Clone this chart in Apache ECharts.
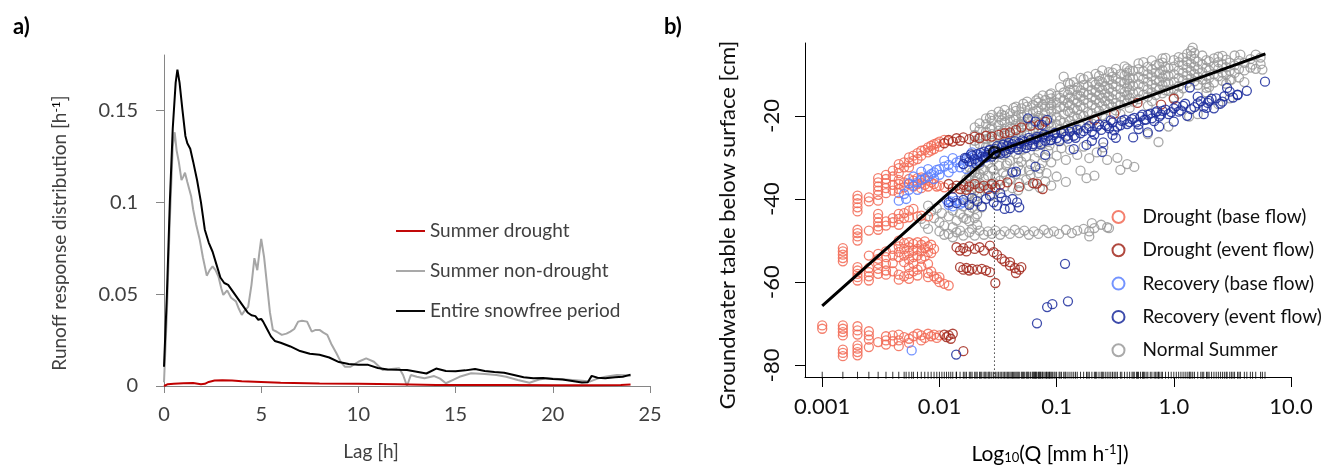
<!DOCTYPE html>
<html><head><meta charset="utf-8">
<script src="https://cdn.jsdelivr.net/npm/echarts@6/dist/echarts.min.js"></script>
<style>html,body{margin:0;padding:0;background:#fff}#c{width:1333px;height:466px}</style>
</head><body><div id="c"></div>
<script>
// ---------- Panel a data: [lag h, runoff response h^-1] ----------
const LAG_ENTIRE = [[0,0.0105],[0.15,0.05],[0.3,0.1],[0.45,0.14],[0.6,0.165],[0.69,0.172],[0.8,0.165],[0.95,0.15],[1.1,0.136],[1.2,0.132],[1.35,0.129],[1.5,0.122],[1.7,0.112],[1.9,0.1],[2.1,0.085],[2.3,0.078],[2.5,0.073],[2.7,0.066],[2.9,0.059],[3.1,0.056],[3.3,0.055],[3.5,0.052],[3.7,0.049],[3.9,0.046],[4.1,0.043],[4.3,0.040],[4.5,0.0385],[4.7,0.038],[4.85,0.036],[5.0,0.0365],[5.1,0.035],[5.3,0.031],[5.5,0.027],[5.7,0.0245],[6.0,0.0235],[6.5,0.0215],[7.0,0.019],[7.5,0.0175],[8.0,0.017],[8.5,0.0155],[9.0,0.013],[9.5,0.012],[10,0.0115],[10.5,0.0115],[11,0.0098],[11.5,0.009],[12,0.0088],[12.5,0.0087],[13,0.0078],[13.5,0.0068],[14,0.0095],[14.5,0.0082],[15,0.008],[15.5,0.0085],[16,0.0092],[16.5,0.0082],[17,0.0076],[17.5,0.0072],[18,0.006],[18.5,0.0048],[19,0.0042],[19.5,0.0044],[20,0.0038],[20.5,0.0035],[21,0.0027],[21.5,0.0019],[21.8,0.002],[22,0.0055],[22.3,0.0045],[22.7,0.0042],[23.2,0.0047],[23.6,0.005],[24,0.0062]];
const LAG_NON_DROUGHT = [[0,0.002],[0.15,0.04],[0.3,0.09],[0.45,0.13],[0.55,0.138],[0.65,0.128],[0.76,0.122],[0.9,0.112],[1.0,0.114],[1.08,0.116],[1.2,0.111],[1.3,0.107],[1.4,0.103],[1.5,0.096],[1.65,0.088],[1.84,0.0795],[2.0,0.07],[2.2,0.060],[2.35,0.063],[2.5,0.065],[2.65,0.063],[2.8,0.0595],[2.95,0.053],[3.05,0.0495],[3.25,0.052],[3.45,0.048],[3.7,0.046],[3.85,0.042],[4.0,0.0387],[4.15,0.041],[4.33,0.043],[4.5,0.055],[4.65,0.0695],[4.8,0.063],[4.9,0.072],[5.0,0.080],[5.15,0.07],[5.3,0.055],[5.45,0.04],[5.6,0.0305],[5.8,0.0295],[6.06,0.0278],[6.3,0.0285],[6.5,0.0296],[6.7,0.031],[6.9,0.035],[7.1,0.0355],[7.36,0.035],[7.6,0.0296],[7.8,0.0305],[8.0,0.0305],[8.2,0.029],[8.4,0.0278],[8.6,0.023],[8.87,0.0178],[9.1,0.013],[9.3,0.0105],[9.6,0.0105],[10,0.0132],[10.4,0.015],[10.8,0.0132],[11.25,0.0087],[11.7,0.0092],[12.1,0.0096],[12.3,0.006],[12.5,0.0],[12.7,0.006],[13.0,0.005],[13.4,0.0042],[13.9,0.0054],[14.2,0.004],[14.5,0.0015],[14.9,0.0035],[15.2,0.005],[15.8,0.0069],[16.5,0.0065],[17.1,0.006],[17.6,0.005],[18.2,0.0033],[18.8,0.0018],[19.3,0.0035],[19.7,0.0042],[20.3,0.0038],[21,0.0033],[21.5,0.0028],[21.9,0.0024],[22.3,0.004],[22.7,0.005],[23.3,0.006],[23.7,0.0058],[24,0.0054]];
const LAG_DROUGHT = [[0,0],[0.2,0.001],[0.5,0.0012],[1.0,0.0015],[1.5,0.0016],[1.9,0.001],[2.1,0.0012],[2.3,0.0022],[2.6,0.003],[3.0,0.0031],[3.5,0.003],[4.0,0.0026],[5,0.0022],[6,0.0018],[8,0.0014],[10,0.0012],[12,0.0009],[14,0.0006],[16,0.0006],[18,0.0005],[20,0.0004],[22,0.0004],[23.5,0.0005],[24,0.0008]];
const A_X_MIN = 0, A_X_MAX = 25, A_X_STEP = 5;
const A_Y_MAX = 0.18;
const A_Y_TICKS = [0, 0.05, 0.1, 0.15];

// ---------- Panel b data: [Q mm h^-1, groundwater table cm] ----------
// grouped by discharge value: [Q, [depths...]]
const DROUGHT_BASE = [
[0.001,[-70.4,-71.2]],
[0.0015,[-51.8,-52.6,-53.4,-54.2,-55.0,-70.4,-71.2,-72.0,-72.8,-76.2,-77.0,-77.8]],
[0.002,[-39.2,-40.0,-41.0,-42.0,-43.0,-47.4,-48.2,-49.0,-50.0,-56.4,-57.2,-58.0,-58.8,-59.6,-70.6,-71.6,-72.6,-75.2,-76.0,-76.8,-77.6]],
[0.0025,[-39.6,-40.6,-47.6,-53.6,-56.6,-57.6,-58.6,-59.6,-71.8,-72.8,-73.8,-75.6]],
[0.003,[-35.0,-36.0,-37.0,-38.0,-39.0,-40.4,-43.6,-44.6,-45.6,-46.6,-47.4,-53.2,-54.4,-55.6,-56.8,-58.0,-74.4]],
[0.0035,[-34.2,-35.2,-36.2,-37.4,-38.6,-45.4,-46.4,-52.6,-54.0,-55.6,-57.2,-58.2,-73.0,-74.0,-75.0]],
[0.004,[-33.2,-34.6,-36.6,-38.0,-44.6,-45.6,-52.0,-53.6,-55.4,-57.4,-72.8,-74.2]],
[0.0045,[-31.6,-32.6,-33.8,-35.4,-36.4,-37.6,-38.6,-43.6,-44.8,-46.2,-50.0,-51.4,-52.8,-54.0,-58.2,-59.4,-72.6,-74.0,-75.4]],
[0.005,[-31.2,-32.4,-36.0,-37.2,-43.4,-44.6,-50.6,-52.0,-53.6,-55.2,-58.6,-73.2]],
[0.0055,[-30.0,-31.2,-32.4,-35.2,-36.4,-42.8,-44.4,-50.4,-51.6,-53.0,-54.6,-56.4,-58.0,-59.2,-73.6,-74.6]],
[0.006,[-29.6,-30.8,-35.6,-37.0,-42.4,-50.8,-52.4,-54.0,-55.6,-57.4,-73.0]],
[0.0065,[-29.0,-30.4,-35.0,-36.4,-44.2,-50.4,-52.0,-53.6,-57.0,-58.4,-72.4]],
[0.007,[-28.4,-29.6,-34.8,-36.2,-37.4,-44.0,-51.0,-52.6,-54.4,-56.2,-72.8,-74.0]],
[0.0075,[-28.2,-35.2,-36.6,-50.2,-51.8,-53.8,-73.4]],
[0.008,[-27.6,-28.8,-35.6,-37.0,-44.2,-51.4,-52.8,-55.6,-57.8,-58.8,-72.4]],
[0.0085,[-27.2,-28.4,-36.0,-51.0,-53.0,-57.4,-73.0]],
[0.009,[-26.8,-28.0,-36.4,-52.0,-58.6,-72.6]],
[0.0095,[-26.6,-37.0,-59.2,-73.4]],
[0.01,[-26.2,-27.4,-36.8,-58.8,-60.0,-72.8]],
[0.011,[-25.8,-37.2,-60.4]],
[0.012,[-26.0,-60.8]]
];
const DROUGHT_EVENT = [
[0.011,[-26.6,-72.6]],[0.0115,[-73.2]],[0.012,[-25.8,-36.4,-72.8]],[0.0125,[-73.6]],[0.013,[-26.2,-37.4,-72.4]],
[0.014,[-25.4,-36.8,-51.6]],[0.015,[-26.0,-37.6,-52.4,-56.4]],[0.016,[-25.2,-36.6,-51.8,-57.0,-76.6]],
[0.017,[-37.8,-52.6,-56.6]],[0.018,[-25.6,-37.0,-51.4,-57.2]],[0.019,[-56.8]],[0.02,[-25.0,-36.4,-52.0]],
[0.021,[-57.0]],[0.022,[-25.4,-37.4,-51.6]],[0.023,[-56.8]],[0.024,[-36.8,-52.4]],[0.025,[-24.8,-57.2]],
[0.026,[-37.6]],[0.027,[-51.2,-57.6]],[0.028,[-25.0,-36.4]],[0.029,[-52.8]],[0.03,[-37.2,-60.2]],
[0.031,[-53.4]],[0.032,[-24.6]],[0.033,[-36.6]],[0.034,[-54.4]],[0.036,[-24.2,-55.0]],[0.038,[-36.0]],
[0.04,[-24.0,-55.2,-56.0]],[0.044,[-56.6]],[0.045,[-23.4,-57.8]],[0.048,[-37.1,-57.0]],[0.05,[-22.8,-56.4]],
[0.06,[-22.4]],[0.063,[-36.2]],[0.068,[-36.3]],[0.071,[-22.2]],[0.076,[-37.6]],[0.08,[-21.4]],
[0.21,[-21.0]],[0.31,[-19.5]],[0.49,[-16.9]],[0.78,[-17.3]],[1.0,[-15.9]]
];
const RECOVERY_BASE = [
[0.0045,[-40.4]],[0.005,[-38.8]],[0.0052,[-40.0]],[0.0055,[-37.8,-36.2]],[0.0058,[-76.4]],[0.006,[-36.8,-34.6]],
[0.0065,[-36.0,-37.8]],[0.007,[-35.4,-33.4]],[0.0075,[-35.0]],[0.008,[-34.6,-32.8]],[0.0085,[-34.0]],
[0.009,[-33.6,-35.2]],[0.0095,[-33.0]],[0.01,[-32.8,-34.2]],[0.011,[-32.2,-30.8]],[0.0115,[-40.2]],
[0.012,[-31.8,-33.6,-41.4]],[0.0125,[-40.6]],[0.013,[-32.6,-30.2,-41.8]],[0.014,[-31.2,-40.4]],
[0.015,[-30.8,-32.4,-41.2]],[0.016,[-31.6,-40.8]],[0.017,[-30.4,-32.8]],[0.018,[-30.0]],[0.019,[-31.0,-28.8]],
[0.02,[-29.6]],[0.021,[-30.6]],[0.022,[-29.4]],[0.024,[-30.2]],[0.026,[-29.0]]
];
const RECOVERY_EVENT = [
[0.012,[-40.8]],[0.013,[-39.6]],[0.0139,[-77.4]],[0.014,[-41.0]],[0.016,[-31.6,-40.2]],[0.0165,[-30.1]],[0.017,[-30.2]],
[0.018,[-31.0,-41.4]],[0.0185,[-29.3]],[0.019,[-29.6,-39.8]],[0.02,[-30.4]],[0.0205,[-31.5]],[0.021,[-29.2,-40.6]],[0.022,[-31.2]],
[0.0225,[-28.9]],[0.023,[-29.8,-41.8]],[0.024,[-28.6]],[0.0245,[-29.9]],[0.025,[-30.0,-40.0]],[0.026,[-29.4]],[0.0265,[-28.3]],[0.027,[-28.2,-39.2]],
[0.028,[-29.8]],[0.029,[-40.8,-29.3]],[0.03,[-28.0]],[0.031,[-41.6,-27.3]],[0.032,[-28.8]],[0.033,[-38.6,-29.1]],
[0.034,[-27.6,-39.6]],[0.035,[-26.9]],[0.036,[-28.4,-42.4]],[0.037,[-40.4,-28.9]],[0.038,[-27.2]],[0.039,[-26.5]],[0.04,[-28.0,-42.2]],[0.041,[-27.5]],
[0.042,[-26.8,-33.6,-40.0]],[0.044,[-26.1]],[0.045,[-27.6,-33.4]],[0.046,[-40.8]],[0.047,[-28.1]],[0.048,[-26.6,-42.0]],[0.05,[-27.4]],[0.051,[-25.9]],
[0.053,[-26.2]],[0.055,[-27.7]],[0.056,[-27.0]],[0.057,[-20.6]],[0.058,[-25.3]],[0.06,[-25.8]],[0.062,[-27.3]],[0.063,[-26.8]],[0.066,[-25.6,-32.2,-21.4]],
[0.068,[-69.9,-25.1]],[0.07,[-26.4]],[0.073,[-26.9]],[0.075,[-25.2,-22.2]],[0.078,[-24.5]],[0.08,[-26.0,-29.4]],[0.083,[-66.0,-21.0]],
[0.085,[-24.8]],[0.088,[-25.9]],[0.09,[-25.8]],[0.092,[-65.3]],[0.095,[-24.6]],[0.097,[-24.1]],[0.1,[-25.4]],[0.105,[-26.1]],[0.11,[-24.2]],[0.115,[-23.7]],
[0.118,[-55.6]],[0.12,[-25.0]],[0.125,[-64.6,-25.5]],[0.13,[-23.8]],[0.135,[-23.1]],[0.14,[-24.8,-28.0]],[0.145,[-25.3]],[0.15,[-23.4]],
[0.16,[-24.2]],[0.17,[-23.7]],[0.18,[-23.0,-27.0]],[0.19,[-22.5]],[0.2,[-23.8,-26.0]],[0.21,[-24.5]],[0.22,[-22.6]],[0.23,[-22.1]],[0.24,[-23.4]],[0.245,[-28.7]],
[0.25,[-26.4]],[0.26,[-22.2]],[0.27,[-22.5]],[0.28,[-23.0]],[0.29,[-21.1]],[0.3,[-21.6,-24.6]],[0.31,[-23.5]],[0.32,[-25.3]],[0.33,[-22.6]],[0.35,[-22.3]],
[0.36,[-21.2]],[0.38,[-20.9]],[0.4,[-22.0]],[0.42,[-21.5]],[0.44,[-20.8]],[0.45,[-25.2]],[0.46,[-20.5]],[0.48,[-21.6]],[0.5,[-23.2,-22.1]],[0.52,[-20.2]],
[0.54,[-19.7]],[0.56,[-21.0]],[0.58,[-20.9]],[0.6,[-19.8,-24.0]],[0.63,[-19.5]],[0.65,[-20.6]],[0.68,[-21.3]],[0.7,[-19.2]],[0.72,[-18.9]],[0.75,[-20.2,-22.6]],
[0.78,[-19.7]],[0.8,[-18.8]],[0.85,[-18.5]],[0.9,[-19.6]],[0.95,[-19.1]],[1.0,[-18.2,-21.4]],[1.05,[-17.7]],[1.1,[-19.0]],[1.15,[-18.7]],[1.2,[-17.6]],
[1.25,[-17.1]],[1.3,[-20.0]],[1.37,[-13.2]],[1.4,[-18.4]],[1.5,[-17.9]],[1.6,[-17.0,-15.4]],[1.7,[-16.5]],[1.8,[-17.8,-19.6]],[1.9,[-18.1]],[1.95,[-16.9]],
[2.0,[-16.4]],[2.1,[-15.9]],[2.2,[-18.2]],[2.3,[-15.8]],[2.5,[-17.1]],[2.6,[-16.6]],[2.7,[-15.3]],[2.85,[-13.3]],[3.0,[-14.2]],[3.2,[-15.6]],
[3.5,[-15.0,-14.9]],[4.2,[-14.0]],[6.0,[-11.8]]
];
const NORMAL_SUMMER = [
[0.007,[-44.8]],[0.0075,[-46.0]],[0.008,[-41.6,-47.2]],[0.0085,[-43.0]],[0.009,[-44.6]],[0.0095,[-42.2]],
[0.01,[-45.6,-47.8]],[0.0105,[-43.4]],[0.011,[-46.4,-48.6]],[0.012,[-44.2,-48.4]],[0.013,[-42.8,-46.8,-49.2]],
[0.014,[-45.2,-48.0]],[0.015,[-43.6,-47.6]],[0.016,[-41.8,-48.8,-37.1,-44.5]],[0.017,[-44.8,-35.3,-39.1]],
[0.018,[-32.4,-34.4,-36.6,-38.8,-41.0,-43.2,-45.4,-48.0]],[0.019,[-47.2,-33.5,-37.7,-42.1]],
[0.02,[-22.8,-24.6,-26.0,-27.2,-33.6,-35.8,-38.0,-40.2,-42.4,-44.6,-48.8]],[0.021,[-46.2,-34.9,-39.3,-43.7]],
[0.022,[-21.8,-23.4,-25.2,-26.8,-31.8,-34.0,-36.2,-38.4,-47.6]],[0.023,[-42.0,-32.7,-36.9]],
[0.024,[-33.0,-35.2,-48.6]],[0.025,[-20.6,-22.0,-23.8,-25.6,-27.4,-37.6]],[0.026,[-31.4,-34.4,-47.8]],
[0.027,[-36.8,-20.5,-23.1,-25.3,-27.9]],[0.028,[-19.8,-21.2,-22.8,-24.4,-26.0,-32.6,-39.2,-48.4]],[0.029,[-30.5,-33.1,-36.1]],
[0.03,[-34.8,-37.6,-47.6]],
[0.032,[-19.0,-20.4,-22.2,-23.6,-25.2,-27.0,-32.0]],[0.033,[-35.6,-48.6]],[0.034,[-19.7,-21.1,-24.1,-26.9,-29.0]],[0.035,[-29.4,-33.6]],
[0.036,[-18.6,-20.0,-21.6,-23.2,-24.8,-26.4,-37.0,-47.8]],[0.037,[-31.9,-34.3]],[0.038,[-31.4]],
[0.04,[-19.4,-21.0,-22.6,-24.2,-25.6,-27.8,-30.8,-35.2,-48.4]],[0.042,[-37.4]],[0.043,[-18.1,-20.9,-23.1,-26.3]],[0.044,[-47.4]],
[0.045,[-17.8,-18.8,-20.4,-22.0,-23.6,-25.2,-29.2,-34.0]],[0.047,[-30.3,-32.1,-37.9]],[0.048,[-36.2,-48.2]],
[0.05,[-18.2,-19.8,-21.4,-23.0,-24.6,-26.8,-31.0,-33.2]],[0.052,[-17.1,-20.3,-22.1,-25.5,-28.1]],[0.053,[-47.6]],[0.055,[-29.8,-35.4]],
[0.056,[-16.6,-17.8,-19.4,-21.0,-22.6,-24.2]],[0.058,[-48.6,-33.1,-36.9]],[0.06,[-31.6,-34.2]],
[0.063,[-17.4,-19.0,-20.6,-22.2,-23.8,-25.6]],[0.064,[-47.8]],[0.065,[-30.2,-36.4]],[0.067,[-16.3,-18.9,-21.1,-24.9,-27.3]],
[0.07,[-15.8,-16.8,-18.4,-20.0,-21.6,-23.4,-28.8,-33.8,-48.4]],[0.072,[-32.7,-37.3]],[0.075,[-31.4]],[0.076,[-15.1,-17.3,-20.7,-23.1,-26.5]],[0.078,[-47.4]],
[0.08,[-16.2,-17.8,-19.4,-21.0,-22.8,-24.6,-30.0,-35.8]],[0.082,[-33.8]],[0.085,[-28.4,-48.2]],[0.087,[-14.9,-16.9,-18.3,-21.7,-23.9,-27.1]],
[0.09,[-14.6,-15.8,-17.4,-19.0,-20.6,-22.4,-31.2,-36.8]],[0.095,[-47.8]],
[0.1,[-15.2,-16.8,-18.4,-20.2,-22.0,-24.0,-29.6,-34.6]],[0.105,[-48.4]],[0.107,[-13.1,-15.7,-17.9,-21.1,-23.3,-26.1]],[0.11,[-27.8]],
[0.115,[-10.6,-14.4,-16.2,-17.8,-19.6,-21.6]],[0.12,[-30.6,-35.9,-47.4]],[0.125,[-12.1,-14.9,-16.9,-18.9,-22.3,-24.7]],
[0.13,[-12.4,-13.8,-15.6,-17.4,-19.2,-21.2,-28.2]],[0.135,[-48.2]],[0.14,[-11.9,-13.7,-16.1,-18.3,-20.1,-22.1]],
[0.15,[-13.2,-15.0,-16.8,-18.6,-20.6,-23.0,-29.4,-47.6]],[0.16,[-33.2,-10.9,-13.9,-15.3,-17.7,-19.7,-22.5]],
[0.17,[-11.2,-12.6,-14.4,-16.2,-18.0,-20.0,-27.4,-47.2]],[0.18,[-35.0]],[0.185,[-10.5,-12.9,-14.9,-16.9,-19.1,-21.1]],[0.19,[-30.2,-47.8,-49.0]],
[0.2,[-12.0,-13.8,-15.6,-17.4,-19.4,-21.8,-45.8]],[0.21,[-34.4,-47.0]],[0.215,[-9.9,-12.5,-14.3,-16.1,-18.1,-20.7]],[0.22,[-28.8]],
[0.23,[-10.4,-11.6,-13.2,-15.0,-16.8,-18.8]],[0.24,[-46.2]],[0.245,[-9.1,-11.9,-13.7,-15.7,-17.5,-19.9]],[0.25,[-27.6]],
[0.26,[-11.0,-12.8,-14.6,-16.4,-18.4,-20.6]],[0.27,[-30.6,-46.8]],[0.28,[-47.0,-9.5,-11.3,-13.5,-15.3,-17.1]],
[0.3,[-9.6,-10.6,-12.4,-14.2,-16.0,-17.8]],[0.32,[-8.7,-11.1,-12.9,-14.9,-16.9,-18.7]],[0.33,[-30.1]],[0.35,[-10.0,-11.8,-13.6,-15.4,-17.4,-19.6,-33.0]],
[0.38,[-8.1,-10.3,-12.1,-14.3,-16.1]],
[0.4,[-8.6,-9.6,-11.4,-13.2,-15.0,-16.8,-31.6]],[0.42,[-9.1,-10.9,-12.3,-13.9,-15.7,-18.1]],[0.45,[-9.2,-11.0,-12.8,-14.6,-16.6]],[0.46,[-32.3]],
[0.5,[-7.4,-8.8,-10.6,-12.4,-14.2,-16.0]],[0.55,[-7.1,-9.3,-11.1,-12.9,-14.9]],[0.6,[-8.2,-10.0,-11.8,-13.6,-15.4,-17.6,-24.4]],
[0.65,[-6.7,-8.9,-10.5,-12.5,-14.3,-16.5]],
[0.7,[-7.8,-9.6,-11.4,-13.2,-15.0]],[0.74,[-26.3]],[0.75,[-7.5,-9.9,-11.7,-13.7]],[0.8,[-6.2,-7.2,-9.0,-10.8,-12.6,-14.6]],
[0.85,[-6.1,-8.3,-10.1,-11.9,-13.9]],
[0.9,[-8.6,-10.4,-12.2,-14.0,-22.6]],[1.0,[-6.6,-8.2,-10.0,-11.8,-13.6,-15.6]],[1.1,[-5.9,-7.1,-9.1,-10.9,-12.9,-14.7]],
[1.2,[-6.0,-7.8,-9.6,-11.4,-13.4]],[1.3,[-5.1,-6.9,-8.5,-10.3,-12.1]],[1.35,[-20.2]],[1.4,[-4.4,-5.6,-7.4,-9.2,-11.0]],[1.45,[-3.6]],
[1.5,[-4.9,-6.3,-8.1,-9.9,-11.7]],
[1.6,[-7.0,-8.8,-10.6,-12.6,-19.6]],[1.75,[-5.5,-7.7,-9.5,-11.3]],[1.9,[-6.6,-8.4,-10.4,-12.2,-13.3,-14.4]],[2.0,[-6.9,-9.1,-10.9,-13.1]],
[2.2,[-6.2,-8.0,-10.0,-12.0]],
[2.4,[-5.8,-17.2,-7.1,-8.7,-10.5]],[2.6,[-5.6,-7.6,-9.6,-11.6]],[2.8,[-6.5,-8.3,-10.1,-12.3]],[3.0,[-7.2,-9.2,-11.4,-15.8]],[3.1,[-11.3]],
[3.3,[-5.5,-7.9,-9.7]],
[3.6,[-6.8,-8.8,-10.8]],[3.7,[-5.3]],[4.0,[-7.3,-9.1,-11.9]],[4.5,[-6.4,-8.4]],[4.7,[-7.7]],[5.0,[-5.3,-8.7]],[5.5,[-6.0,-7.6]],[5.7,[-8.9]]
];
// segmented regression (piecewise linear fit) and its breakpoint
const FIT_LINE = [[0.001,-65.7],[0.0295,-28.8],[6.05,-5.1]];
const BREAKPOINT = [0.0295,-28.8];
const B_X_MIN = 0.000713, B_X_MAX = 10;
const B_Y_MIN = -82.8, B_Y_MAX = -2.5;
const B_X_TICKS = [0.001, 0.01, 0.1, 1, 10];
const B_Y_TICKS = [-80, -60, -40, -20];

// ---------- build ----------
function flat(groups){ const out=[]; groups.forEach(g=>g[1].forEach(d=>out.push([g[0],d]))); return out; }
const sets = [
  {name:'Normal Summer', data:flat(NORMAL_SUMMER), color:'#9a9a9a'},
  {name:'Drought (base flow)', data:flat(DROUGHT_BASE), color:'#f26a55'},
  {name:'Drought (event flow)', data:flat(DROUGHT_EVENT), color:'#a2281c'},
  {name:'Recovery (base flow)', data:flat(RECOVERY_BASE), color:'#5a80ff'},
  {name:'Recovery (event flow)', data:flat(RECOVERY_EVENT), color:'#1b2c9c'}
];
const rugQ = [];
sets.forEach(s=>s.data.forEach(p=>{ if(rugQ.indexOf(p[0])<0) rugQ.push(p[0]); }));
const RUG_Y = B_Y_MIN + 0.45;

const FONT = 'Lato, "Noto Sans", sans-serif';
const A_COL = '#404040', A_AXIS = '#868686';

const chart = echarts.init(document.getElementById('c'), null, {renderer:'canvas'});
const series = [
  {type:'line', name:'Summer drought', xAxisIndex:0, yAxisIndex:0, data:LAG_DROUGHT, symbol:'none', lineStyle:{color:'#c00000', width:2}, itemStyle:{color:'#c00000'}, z:4},
  {type:'line', name:'Summer non-drought', xAxisIndex:0, yAxisIndex:0, data:LAG_NON_DROUGHT, symbol:'none', lineStyle:{color:'#a6a6a6', width:2}, itemStyle:{color:'#a6a6a6'}, z:3},
  {type:'line', name:'Entire snowfree period', xAxisIndex:0, yAxisIndex:0, data:LAG_ENTIRE, symbol:'none', lineStyle:{color:'#000000', width:2}, itemStyle:{color:'#000000'}, z:5}
];
sets.forEach((s,i)=>series.push({
  type:'scatter', name:s.name, xAxisIndex:1, yAxisIndex:1, data:s.data,
  symbol:'circle', symbolSize:9, z:2+i*0.01,
  itemStyle:{color:'rgba(0,0,0,0)', borderColor:s.color, borderWidth:1.3, opacity:0.85},
  emphasis:{disabled:true}, silent:true
}));
series.push({type:'scatter', name:'rug', xAxisIndex:1, yAxisIndex:1, data:rugQ.map(q=>[q,RUG_Y]), symbol:'rect', symbolSize:[1,7], itemStyle:{color:'#000'}, silent:true, z:6});
series.push({type:'line', name:'bpline', xAxisIndex:1, yAxisIndex:1, data:[BREAKPOINT,[BREAKPOINT[0],B_Y_MIN]], symbol:'none', lineStyle:{color:'#444', width:1, type:[1.5,2.5]}, silent:true, z:5});
series.push({type:'line', name:'fit', xAxisIndex:1, yAxisIndex:1, data:FIT_LINE, symbol:'none', lineStyle:{color:'#000', width:3}, silent:true, z:7});
series.push({type:'scatter', name:'bp', xAxisIndex:1, yAxisIndex:1, data:[BREAKPOINT], symbol:'circle', symbolSize:11, itemStyle:{color:'rgba(0,0,0,0)', borderColor:'#000', borderWidth:2.5}, silent:true, z:8});

function fmtPow(v){ const e=Math.round(Math.log10(v)); const p=Math.pow(10,e); return e>=0? p.toFixed(1) : p.toFixed(-e); }

chart.setOption({
  animation:false,
  backgroundColor:'#fff',
  textStyle:{fontFamily:FONT},
  grid:[
    {left:164, top:55, width:486, height:331, outerBoundsMode:'none', containLabel:false},
    {left:805, top:43, width:486, height:334, outerBoundsMode:'none', containLabel:false}
  ],
  xAxis:[
    {type:'value', gridIndex:0, min:A_X_MIN, max:A_X_MAX, interval:A_X_STEP, splitLine:{show:false},
     axisLine:{lineStyle:{color:A_AXIS, width:1}}, axisTick:{length:7, lineStyle:{color:A_AXIS}},
     axisLabel:{color:A_COL, fontSize:20, margin:19, fontFamily:FONT}},
    {type:'log', gridIndex:1, logBase:10, min:B_X_MIN, max:B_X_MAX, splitLine:{show:false},
     axisLine:{lineStyle:{color:'#000', width:1}},
     axisTick:{length:10, lineStyle:{color:'#000'}, customValues:B_X_TICKS},
     minorTick:{show:false},
     axisLabel:{color:'#111', fontSize:22, margin:19, fontFamily:FONT, customValues:B_X_TICKS, formatter:fmtPow}}
  ],
  yAxis:[
    {type:'value', gridIndex:0, min:0, max:A_Y_MAX, splitLine:{show:false},
     axisLine:{show:true, lineStyle:{color:A_AXIS, width:1}},
     axisTick:{show:true, length:8, lineStyle:{color:A_AXIS}, customValues:A_Y_TICKS},
     axisLabel:{color:A_COL, fontSize:20, margin:26, fontFamily:FONT, customValues:A_Y_TICKS}},
    {type:'value', gridIndex:1, min:B_Y_MIN, max:B_Y_MAX, splitLine:{show:false},
     axisLine:{show:true, lineStyle:{color:'#000', width:1}},
     axisTick:{show:true, length:10, lineStyle:{color:'#000'}, customValues:B_Y_TICKS},
     axisLabel:{color:'#111', fontSize:22, margin:22, rotate:90, fontFamily:FONT, customValues:B_Y_TICKS}}
  ],
  legend:[
    {data:['Summer drought','Summer non-drought','Entire snowfree period'], orient:'vertical', left:391, top:216,
     icon:'path://M0,0L30,0L30,2L0,2Z', itemWidth:29, itemHeight:2, itemGap:20,
     textStyle:{color:A_COL, fontSize:19, lineHeight:20, fontFamily:FONT}, selectedMode:false},
    {data:['Drought (base flow)','Drought (event flow)','Recovery (base flow)','Recovery (event flow)','Normal Summer'],
     orient:'vertical', left:1106.5, top:202, icon:'circle', itemWidth:38, itemHeight:12, itemGap:13.3,
     itemStyle:{borderWidth:2}, textStyle:{color:'#111', fontSize:19, lineHeight:20, fontFamily:FONT}, selectedMode:false}
  ],
  graphic:[
    {type:'text', left:13, top:16, style:{text:'a)', font:'bold 22px '+FONT, fill:'#000'}},
    {type:'text', left:664, top:16, style:{text:'b)', font:'bold 22px '+FONT, fill:'#000'}},
    {type:'text', x:60, y:233, rotation:Math.PI/2,
     style:{text:'{a|Runoff response distribution [h}{s|-1}{a|]}', align:'center', verticalAlign:'middle',
       rich:{a:{fontSize:19, fontFamily:FONT, fill:A_COL, color:A_COL}, s:{fontSize:12, fontFamily:FONT, color:A_COL, verticalAlign:'top', padding:[0,0,8,0]}}}},
    {type:'text', x:371, y:452, style:{text:'Lag [h]', align:'center', verticalAlign:'middle', font:'19px '+FONT, fill:A_COL}},
    {type:'text', x:728, y:225, rotation:Math.PI/2,
     style:{text:'Groundwater table below surface [cm]', align:'center', verticalAlign:'middle', font:'22px '+FONT, fill:'#111'}},
    {type:'text', x:1050, y:454,
     style:{text:'{a|Log}{b|10}{a|(Q [mm h}{s|-1}{a|])}', align:'center', verticalAlign:'middle',
       rich:{a:{fontSize:21, fontFamily:FONT, color:'#111'}, b:{fontSize:13, fontFamily:FONT, color:'#111', verticalAlign:'bottom', padding:[8,0,0,0]}, s:{fontSize:13, fontFamily:FONT, color:'#111', verticalAlign:'top', padding:[0,0,8,0]}}}}
  ],
  series:series
});
</script></body></html>
